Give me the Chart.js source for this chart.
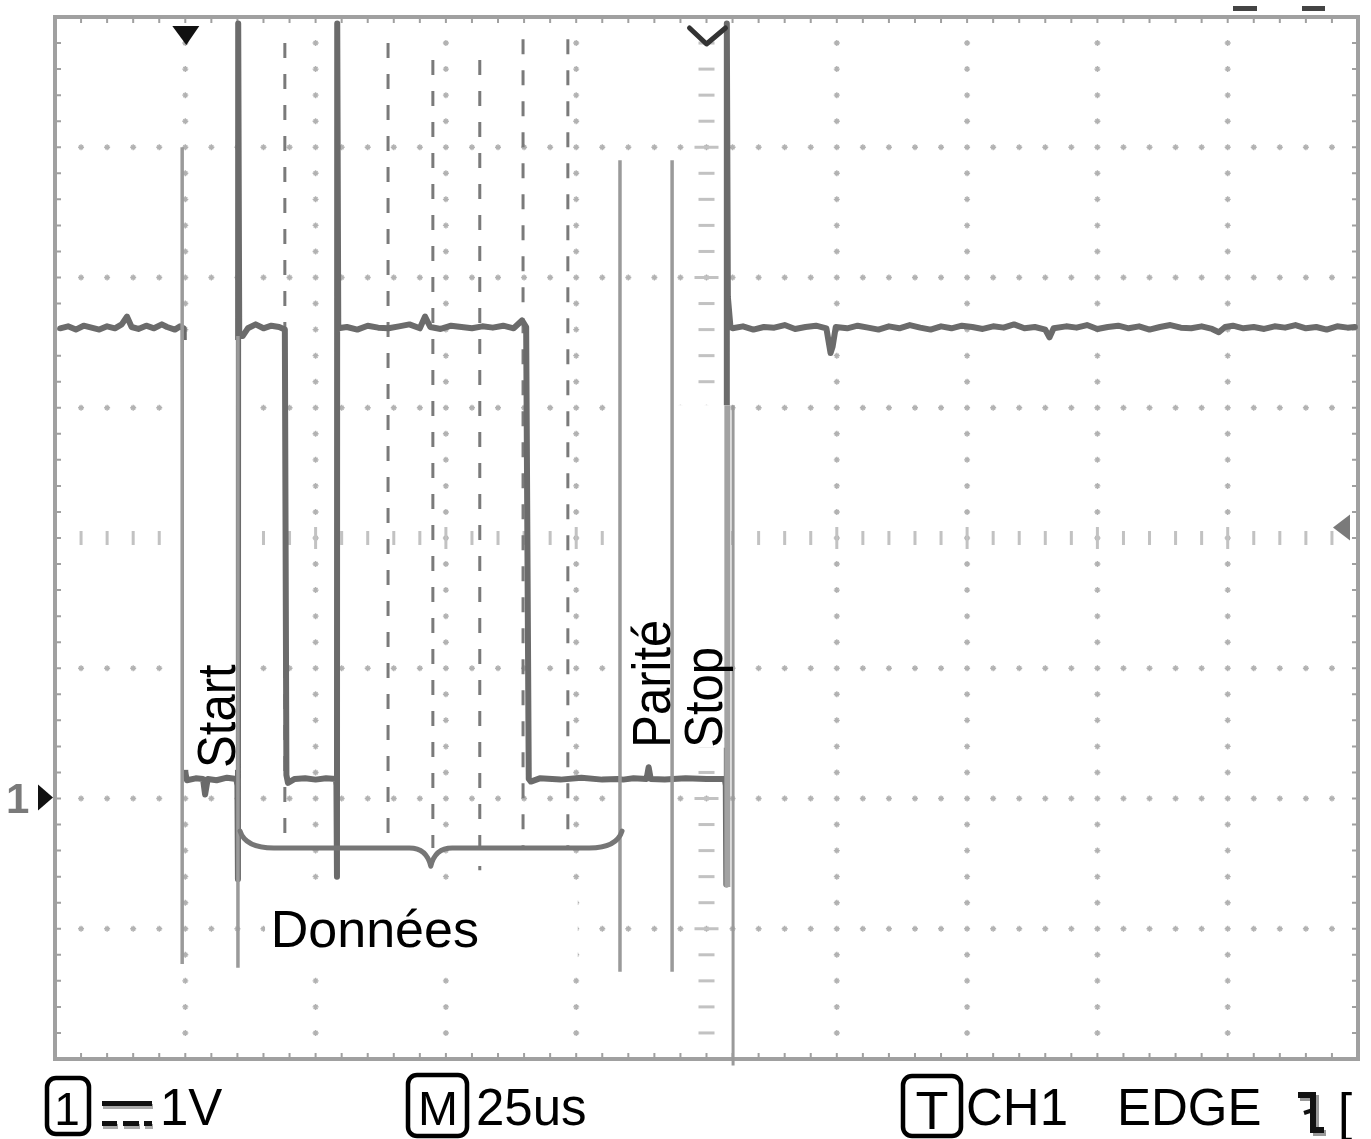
<!DOCTYPE html>
<html><head><meta charset="utf-8">
<script src="https://cdn.jsdelivr.net/npm/chart.js@4.4.0/dist/chart.umd.min.js"></script>
<style>html,body{margin:0;padding:0;background:#fff;overflow:hidden}canvas{display:block}</style>
</head><body>
<canvas id="c" width="1371" height="1139"></canvas>
<script>
// ---- data (time in µs relative to trigger, 25 µs/div; level in V, 1 V/div) ----
const timeTicks = [-25, 0, 25, 50, 75, 100, 125, 150, 175, 200, 225];
const voltTicks = [-2, -1, 0, 1, 2, 3, 4, 5, 6];
const traceT = [
  -24.0,-22.5,-21.0,-19.5,-18.0,-16.5,-15.0,-13.5,-12.2,-11.2,-10.3,-9.0,-7.5,-6.0,-4.5,-3.5,-2.0,-1.0,-0.3,
  0.0,0.3,2.0,3.4,3.8,4.3,6.0,8.0,9.8,
  10.0,10.1,10.15,10.35,11.0,12.0,13.5,15.0,16.5,18.0,19.1,
  19.4,19.7,21.0,23.0,25.0,27.0,28.9,
  29.0,29.1,29.15,29.35,31,33,35,37,39,41,43,45,46,47,49,51,53,55,57,59,61,63,64.6,65.4,
  65.9,66.3,68,72,76,80,83,84,86,88.5,88.9,89.3,92,96,100,103.5,
  103.7,103.8,103.9,104.1,104.6,
  105,107,109,111,113,115,117,119,121,123,123.8,124.2,124.8,127,129,131,133,135,137,139,141,143,145,147,149,
  151,153,155,157,159,161,163,165,165.8,166.6,169,171,173,175,177,179,181,183,185,187,189,191,193,195,197,
  198.3,199.5,201,203,205,207,209,211,213,215,217,219,221,223,224.4
];
const traceV = [
  3.61,3.625,3.60,3.63,3.615,3.60,3.625,3.61,3.64,3.70,3.62,3.605,3.63,3.61,3.64,3.62,3.60,3.625,3.61,
  0.20,0.14,0.155,0.15,0.03,0.15,0.14,0.16,0.15,
  0.10,-0.62,5.95,3.55,3.55,3.61,3.64,3.61,3.63,3.62,3.60,
  0.18,0.12,0.15,0.155,0.145,0.155,0.15,
  0.10,-0.60,5.95,3.61,3.62,3.60,3.63,3.615,3.61,3.625,3.64,3.61,3.70,3.62,3.605,3.63,3.62,3.61,3.625,3.615,3.63,3.61,3.67,3.62,
  0.15,0.13,0.155,0.145,0.16,0.145,0.15,0.145,0.155,0.15,0.24,0.15,0.145,0.155,0.15,0.15,
  0.10,-0.66,5.95,3.85,3.62,
  3.61,3.625,3.60,3.62,3.615,3.635,3.605,3.62,3.63,3.61,3.42,3.47,3.62,3.61,3.63,3.615,3.60,3.625,3.61,3.635,3.615,3.60,3.625,3.61,3.63,
  3.62,3.605,3.625,3.615,3.64,3.61,3.62,3.60,3.54,3.61,3.625,3.615,3.635,3.605,3.62,3.63,3.61,3.625,3.60,3.62,3.635,3.615,3.61,3.625,3.605,
  3.58,3.62,3.63,3.61,3.62,3.605,3.625,3.615,3.635,3.61,3.62,3.60,3.625,3.615,3.62
];
const bitEdgesDashed = [19.1, 38.9, 47.5, 56.5, 64.8, 73.4];
const markerLines = [-0.6, 10.1, 83.4, 93.4];
const stopLine = 105.1;
const fieldLabels = ['Start', 'Parité', 'Stop', 'Données'];
const bottomLabels = ['1', '1V', 'M', '25us', 'T', 'CH1', 'EDGE'];

const FONT = '"Liberation Sans", Arial, Helvetica, sans-serif';

function scopePlugin() {
  return {
    id: 'scope',
    beforeDatasetsDraw(chart) {
      const ctx = chart.ctx, xs = chart.scales.x, ys = chart.scales.y;
      const X = v => xs.getPixelForValue(v), Y = v => ys.getPixelForValue(v);
      const L = xs.left, R = xs.right, T = ys.top, B = ys.bottom;
      ctx.save();
      // dotted graticule (asterisk dots every 1/5 division)
      ctx.strokeStyle = '#b2b2b2'; ctx.lineWidth = 1.4;
      ctx.beginPath();
      const cross = (px, py) => {
        ctx.moveTo(px - 3, py); ctx.lineTo(px + 3, py);
        ctx.moveTo(px, py - 3); ctx.lineTo(px, py + 3);
        ctx.moveTo(px - 2, py - 2); ctx.lineTo(px + 2, py + 2);
        ctx.moveTo(px - 2, py + 2); ctx.lineTo(px + 2, py - 2);
      };
      timeTicks.slice(1, -1).forEach(t => {
        if (t === 100) return;
        for (let k = 1; k < 40; k++) cross(X(t), Y(-2 + k * 0.2));
      });
      voltTicks.slice(1, -1).forEach(v => {
        if (v === 2) return;
        for (let k = 1; k < 50; k++) cross(X(-25 + k * 5), Y(v));
      });
      ctx.stroke();
      // center axes with denser marks
      ctx.fillStyle = '#c2c2c2';
      for (let k = 1; k < 40; k++) {
        const w = k % 5 === 0 ? 24 : 16;
        ctx.fillRect(X(100) - w / 2, Y(-2 + k * 0.2) - 1.5, w, 3);
      }
      for (let k = 1; k < 50; k++) {
        const h = k % 5 === 0 ? 22 : 14;
        ctx.fillRect(X(-25 + k * 5) - 1.5, Y(2) - h / 2, 3, h);
      }
      // border with inward ticks
      ctx.strokeStyle = '#a0a0a0'; ctx.lineWidth = 4;
      ctx.strokeRect(L, T, R - L, B - T);
      ctx.lineWidth = 2; ctx.beginPath();
      for (let k = 1; k < 50; k++) {
        const px = X(-25 + k * 5);
        ctx.moveTo(px, T); ctx.lineTo(px, T + 6);
        ctx.moveTo(px, B); ctx.lineTo(px, B - 6);
      }
      for (let k = 1; k < 40; k++) {
        const py = Y(-2 + k * 0.2);
        ctx.moveTo(L, py); ctx.lineTo(L + 6, py);
        ctx.moveTo(R, py); ctx.lineTo(R - 6, py);
      }
      ctx.stroke();
      // dashed bit boundaries
      ctx.strokeStyle = '#7a7a7a'; ctx.lineWidth = 3; ctx.setLineDash([15, 16]);
      const dashTop = [5.8, 5.8, 5.67, 5.67, 5.83, 5.83];
      const dashBot = [-0.38, -0.38, -0.38, -0.55, -0.38, -0.38];
      bitEdgesDashed.forEach((t, i) => {
        ctx.beginPath(); ctx.moveTo(X(t), Y(dashTop[i])); ctx.lineTo(X(t), Y(dashBot[i])); ctx.stroke();
      });
      ctx.setLineDash([]);
      ctx.restore();
    },
    afterDatasetsDraw(chart) {
      const ctx = chart.ctx, xs = chart.scales.x, ys = chart.scales.y;
      const X = v => xs.getPixelForValue(v), Y = v => ys.getPixelForValue(v);
      ctx.save();
      // white label panels
      ctx.fillStyle = '#ffffff';
      const box = (t0, t1, v0, v1) => ctx.fillRect(X(t0), Y(v0), X(t1) - X(t0), Y(v1) - Y(v0));
      box(-0.25, 9.7, 3.52, 0.22);     // Start
      box(83.8, 93.0, 3.46, 0.39);     // Parité
      box(94.0, 104.6, 3.02, 0.39);    // Stop
      box(84.2, 93.2, 0.08, -0.78);    // under parity
      box(15.3, 75.3, -0.76, -1.33);   // Données
      // solid marker lines
      ctx.strokeStyle = '#9a9a9a'; ctx.lineWidth = 3.5;
      const line = (t, v0, v1) => { ctx.beginPath(); ctx.moveTo(X(t), Y(v0)); ctx.lineTo(X(t), Y(v1)); ctx.stroke(); };
      line(markerLines[0], 5.0, -1.27);
      line(markerLines[1], 3.55, -1.3);
      line(markerLines[2], 4.9, -1.33);
      line(markerLines[3], 4.9, -1.33);
      ctx.strokeStyle = '#a2a2a2'; ctx.lineWidth = 6; line(104.0, 3.02, -0.68);
      ctx.strokeStyle = '#9a9a9a'; ctx.lineWidth = 3; line(stopLine, 3.02, -2.05);
      // brace under data bits
      ctx.strokeStyle = '#767676'; ctx.lineWidth = 5; ctx.lineCap = 'round'; ctx.lineJoin = 'round';
      ctx.beginPath();
      ctx.moveTo(X(10.5), Y(-0.25));
      ctx.quadraticCurveTo(X(11.5), Y(-0.38), X(17), Y(-0.38));
      ctx.lineTo(X(43.0), Y(-0.38));
      ctx.quadraticCurveTo(X(46.3), Y(-0.38), X(47.1), Y(-0.52));
      ctx.quadraticCurveTo(X(47.9), Y(-0.38), X(51.2), Y(-0.38));
      ctx.lineTo(X(77.5), Y(-0.38));
      ctx.quadraticCurveTo(X(82.8), Y(-0.38), X(83.8), Y(-0.25));
      ctx.stroke();
      // field labels
      ctx.fillStyle = '#000';
      ctx.textBaseline = 'alphabetic'; ctx.textAlign = 'left';
      ctx.font = '49px ' + FONT;
      const vtext = (txt, t, v) => {
        ctx.save(); ctx.translate(X(t), Y(v)); ctx.rotate(-Math.PI / 2); ctx.scale(1, 1.1);
        ctx.fillText(txt, 0, 0); ctx.restore();
      };
      vtext(fieldLabels[0], 9.55, 0.235);
      vtext(fieldLabels[1], 93.0, 0.39);
      vtext(fieldLabels[2], 103.0, 0.39);
      ctx.font = '52px ' + FONT;
      ctx.fillText(fieldLabels[3], X(16.4), Y(-1.14));
      // trigger position marker (top)
      ctx.fillStyle = '#111';
      ctx.beginPath();
      ctx.moveTo(X(0) - 13, ys.top + 9); ctx.lineTo(X(0) + 14, ys.top + 9); ctx.lineTo(X(0) + 1, ys.top + 28); ctx.closePath(); ctx.fill();
      // screen centre chevron
      ctx.strokeStyle = '#333'; ctx.lineWidth = 5; ctx.lineCap = 'round';
      ctx.beginPath();
      ctx.moveTo(X(100) - 17, ys.top + 11); ctx.lineTo(X(100), ys.top + 27); ctx.lineTo(X(100) + 19, ys.top + 11); ctx.stroke();
      // trigger level marker (right)
      ctx.fillStyle = '#7a7a7a';
      ctx.beginPath();
      ctx.moveTo(xs.right - 25, Y(2.08)); ctx.lineTo(xs.right - 8, Y(2.08) - 13); ctx.lineTo(xs.right - 8, Y(2.08) + 13); ctx.closePath(); ctx.fill();
      // channel ground marker (left)
      ctx.fillStyle = '#111';
      ctx.beginPath();
      ctx.moveTo(38, Y(0) - 14); ctx.lineTo(53, Y(0) - 1); ctx.lineTo(38, Y(0) + 12); ctx.closePath(); ctx.fill();
      ctx.fillStyle = '#7a7a7a'; ctx.font = 'bold 42px ' + FONT;
      ctx.fillText(bottomLabels[0], 6, Y(0) + 14);
      ctx.restore();
    },
    afterDraw(chart) {
      const ctx = chart.ctx;
      ctx.save();
      // top right indicator dashes
      ctx.fillStyle = '#444';
      ctx.fillRect(1233, 6, 24, 5); ctx.fillRect(1302, 6, 23, 5);
      // status line
      ctx.strokeStyle = '#000'; ctx.fillStyle = '#000'; ctx.lineWidth = 4.5;
      const rbox = (x, y, w, h) => { ctx.beginPath(); ctx.roundRect(x, y, w, h, 9); ctx.stroke(); };
      rbox(47, 1078, 42, 56);
      rbox(408, 1075, 59, 61);
      rbox(903, 1076, 58, 60);
      ctx.textBaseline = 'alphabetic';
      ctx.textAlign = 'center';
      ctx.font = '46px ' + FONT; ctx.fillText(bottomLabels[0], 67, 1125);
      ctx.font = '48px ' + FONT; ctx.fillText(bottomLabels[2], 438, 1125);
      ctx.font = '54px ' + FONT; ctx.fillText(bottomLabels[4], 932, 1129);
      ctx.textAlign = 'left';
      ctx.font = '51px ' + FONT;
      ctx.fillText(bottomLabels[1], 160, 1125);
      ctx.fillText(bottomLabels[3], 476, 1125);
      ctx.fillText(bottomLabels[5], 966, 1125);
      ctx.fillText(bottomLabels[6], 1117, 1125);
      ctx.fillText('[', 1338, 1130);
      // DC coupling symbol
      ctx.fillStyle = '#aaa';
      ctx.fillRect(103, 1104, 50, 5);
      ctx.fillRect(103, 1124, 15, 5); ctx.fillRect(124, 1124, 16, 5); ctx.fillRect(145, 1124, 8, 5);
      ctx.fillStyle = '#111';
      ctx.fillRect(102, 1101, 50, 5);
      ctx.fillRect(102, 1121, 15, 5); ctx.fillRect(123, 1121, 16, 5); ctx.fillRect(144, 1121, 8, 5);
      // falling edge trigger symbol
      ctx.lineWidth = 6; ctx.lineCap = 'butt'; ctx.lineJoin = 'miter';
      ctx.strokeStyle = '#999';
      ctx.beginPath(); ctx.moveTo(1300, 1098); ctx.lineTo(1316, 1098); ctx.lineTo(1316, 1133); ctx.lineTo(1326, 1133); ctx.stroke();
      ctx.strokeStyle = '#111';
      ctx.beginPath(); ctx.moveTo(1298, 1095); ctx.lineTo(1313, 1095); ctx.lineTo(1313, 1130); ctx.lineTo(1324, 1130); ctx.stroke();
      ctx.lineWidth = 4;
      ctx.beginPath(); ctx.moveTo(1304, 1113); ctx.lineTo(1313, 1110); ctx.stroke();
      ctx.restore();
    }
  };
}

const points = traceT.map((t, i) => ({ x: t, y: traceV[i] }));

new Chart(document.getElementById('c'), {
  type: 'line',
  data: {
    datasets: [{
      data: points,
      borderColor: '#6b6b6b',
      borderWidth: 6,
      pointRadius: 0,
      tension: 0,
      borderJoinStyle: 'round',
      borderCapStyle: 'round',
      fill: false
    }]
  },
  options: {
    responsive: false,
    animation: false,
    devicePixelRatio: 1,
    layout: { padding: { left: 55, right: 13, top: 17, bottom: 80 } },
    plugins: { legend: { display: false }, tooltip: { enabled: false } },
    events: [],
    scales: {
      x: { type: 'linear', min: timeTicks[0], max: timeTicks[timeTicks.length - 1], display: false },
      y: { type: 'linear', min: voltTicks[0], max: voltTicks[voltTicks.length - 1], display: false }
    }
  },
  plugins: [scopePlugin()]
});
</script>
</body></html>
